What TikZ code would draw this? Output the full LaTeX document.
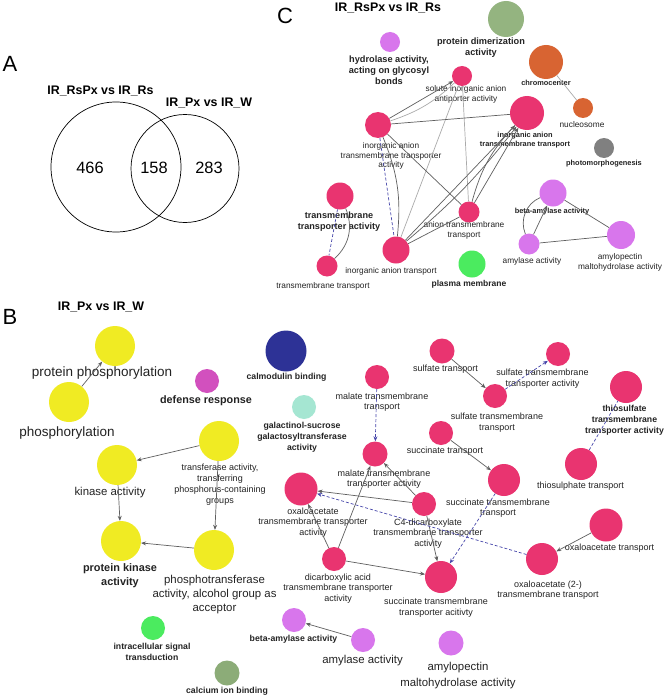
\documentclass[tikz,border=0pt]{standalone}
\usepackage{fontspec}
\setmainfont{Liberation Sans}
\usetikzlibrary{arrows.meta}
\definecolor{pinkc}{RGB}{233,52,112}
\definecolor{yelc}{RGB}{240,235,35}
\definecolor{violc}{RGB}{216,118,236}
\definecolor{magc}{RGB}{210,80,190}
\definecolor{navyc}{RGB}{45,50,150}
\definecolor{tealc}{RGB}{165,230,210}
\definecolor{greenc}{RGB}{75,235,95}
\definecolor{olivec}{RGB}{140,172,120}
\definecolor{dimc}{RGB}{148,180,128}
\definecolor{orangec}{RGB}{216,100,50}
\definecolor{grayc}{RGB}{128,128,128}
\definecolor{edgec}{RGB}{95,95,95}
\definecolor{edgel}{RGB}{170,170,170}
\definecolor{dashc}{RGB}{70,70,170}
\definecolor{txtc}{RGB}{35,35,35}
\tikzset{
  nd/.style={circle, inner sep=0pt, draw=none},
  pk/.style={nd, fill=pinkc},
  yl/.style={nd, fill=yelc, minimum size=40pt},
  vl/.style={nd, fill=violc},
  lb/.style={align=center, inner sep=0pt, text=txtc},
  sC/.style={lb, font=\fontsize{8.3}{9.8}\selectfont},
  sB/.style={lb, font=\fontsize{9}{10.5}\selectfont},
  bC/.style={lb, font=\fontsize{7.4}{9}\selectfont\bfseries},
  bB/.style={lb, font=\fontsize{8.7}{11}\selectfont\bfseries},
  big/.style={lb, font=\fontsize{11.4}{13.6}\selectfont},
  huge/.style={lb, font=\fontsize{13.5}{16}\selectfont},
  ttl/.style={lb, text=black, font=\fontsize{12.4}{15}\selectfont\bfseries},
  lett/.style={lb, text=black, font=\fontsize{22}{24}\selectfont},
  num/.style={lb, text=black, font=\fontsize{16.4}{19}\selectfont},
  vc/.style={circle, draw=black, line width=0.7pt, inner sep=0pt},
  ed/.style={draw=edgec, line width=0.7pt},
  edl/.style={draw=edgel, line width=0.7pt},
  ar/.style={ed, -{Stealth[length=5pt,width=4pt]}},
  dsh/.style={draw=dashc, line width=0.7pt, dash pattern=on 3pt off 2pt},
  dar/.style={dsh, -{Stealth[length=5pt,width=4pt]}},
}
\begin{document}
\begin{tikzpicture}[x=1pt,y=-1pt]
\useasboundingbox (0,0) rectangle (666,698);
\fill[white] (0,0) rectangle (666,698);

% ---------------- Panel A ----------------
\node[lett] (la) at (10,64) {A};
\node[vc, minimum size=130pt] (vl) at (116,167) {};
\node[vc, minimum size=108pt] (vr) at (185,168.5) {};
\node[ttl] (t1) at (100.5,91) {IR\_RsPx vs IR\_Rs};
\node[ttl] (t2) at (209,103) {IR\_Px vs IR\_W};
\node[num] (n1) at (90,168) {466};
\node[num] (n2) at (154,168) {158};
\node[num] (n3) at (209,168) {283};

% ---------------- Panel C ----------------
\node[lett] (lc) at (285,16) {C};
\node[ttl] (tc) at (388,8) {IR\_RsPx vs IR\_Rs};

\node[nd, fill=violc, minimum size=20pt] (hyd) at (390,42) {};
\node[lb, font=\fontsize{9.2}{11}\selectfont\bfseries] (hydl) at (389,70) {hydrolase activity,\\acting on glycosyl\\bonds};
\node[nd, fill=dimc, minimum size=36pt] (dim) at (506,19) {};
\node[lb, font=\fontsize{9.2}{11}\selectfont\bfseries] (diml) at (481,48) {protein dimerization\\activity};
\node[pk, minimum size=20pt] (sol) at (462,76) {};
\node[sC] (soll) at (466,94.5) {solute inorganic anion\\antiporter activity};
\node[nd, fill=orangec, minimum size=34pt] (chr) at (546,62) {};
\node[bC] (chrl) at (546,83) {chromocenter};
\node[nd, fill=orangec, minimum size=20pt] (nuc) at (583,108) {};
\node[sC] (nucl) at (582,125) {nucleosome};
\node[nd, fill=grayc, minimum size=20pt] (pho) at (604,148) {};
\node[bC] (phol) at (604,164) {photomorphogenesis};
\node[pk, minimum size=34pt] (iaTT) at (527,113) {};
\node[bC] (iaTTl) at (525,140) {inorganic anion\\transmembrane transport};
\node[pk, minimum size=26pt] (iaTA) at (378,125) {};
\node[sC] (iaTAl) at (391,156) {inorganic anion\\transmembrane transporter\\activity};
\node[pk, minimum size=27pt] (tta) at (340,196) {};
\node[lb, font=\fontsize{9.1}{11.5}\selectfont\bfseries] (ttal) at (339,221.5) {transmembrane\\transporter activity};
\node[pk, minimum size=21pt] (tt) at (327,266) {};
\node[sC] (ttl2) at (323,286) {transmembrane transport};
\node[pk, minimum size=27pt] (iat) at (396,250) {};
\node[sC] (iatl) at (391,271) {inorganic anion transport};
\node[pk, minimum size=21pt] (aTT) at (469,212) {};
\node[sC] (aTTl) at (464,230.5) {anion transmembrane\\transport};
\node[nd, fill=greenc, minimum size=27pt] (pm) at (472,264) {};
\node[lb, font=\fontsize{8.5}{10}\selectfont\bfseries] (pml) at (469,284) {plasma membrane};
\node[vl, minimum size=27pt] (ba1) at (553,193) {};
\node[bC] (ba1l) at (552,212) {beta-amylase activity};
\node[vl, minimum size=21pt] (am1) at (529,244) {};
\node[sC] (am1l) at (532,261) {amylase activity};
\node[vl, minimum size=28pt] (ap1) at (621,235) {};
\node[sC] (ap1l) at (620,262) {amylopectin\\maltohydrolase activity};

% C edges
\draw[edl] (chr) -- (nuc);
\draw[edl] (sol) -- (iat);
\draw[edl] (sol) -- (aTT);
\draw[edl] (iaTA) to[bend right=12] (sol);
\draw[ar] (iaTA) -- (sol);
\draw[ed] (iaTA) -- (iaTT);
\draw[ed] (iaTA) -- (aTT);
\draw[ed] (iaTA) to[bend left=14] (iat);
\draw[dsh] (iaTA) -- (iat);
\draw[ar] (iat) -- (iaTT);
\draw[ar] (iat) to[bend right=6] (iaTT);
\draw[ar] (aTT) -- (iaTT);
\draw[ed] (aTT) to[bend left=14] (iaTT);
\draw[ed] (aTT) -- (iat);
\draw[dsh] (tta) -- (tt);
\draw[ed] (tta) to[bend left=35] (tt);
\draw[ed] (ba1) to[bend right=45] (am1);
\draw[ar] (am1) -- (ba1);
\draw[ed] (ba1) -- (ap1);
\draw[ed] (am1) -- (ap1);

% ---------------- Panel B ----------------
\node[lett] (lbB) at (10,317) {B};
\node[ttl] (tb) at (101,307) {IR\_Px vs IR\_W};

\node[yl] (pp) at (115,346) {};
\node[huge] (ppl) at (102,373) {protein phosphorylation};
\node[yl] (ph) at (69,402) {};
\node[huge] (phl) at (67,433) {phosphorylation};
\node[yl] (ka) at (117,465) {};
\node[big] (kal) at (110,493) {kinase activity};
\node[yl] (tr) at (219,441) {};
\node[sB, font=\fontsize{9}{10.8}\selectfont] (trl) at (220,484.5) {transferase activity,\\transferring\\phosphorus-containing\\groups};
\node[yl] (pka) at (121,541) {};
\node[lb, font=\fontsize{10.9}{14}\selectfont\bfseries] (pkal) at (120,576) {protein kinase\\activity};
\node[yl] (pt) at (214,550) {};
\node[big] (ptl) at (214.5,594.5) {phosphotransferase\\activity, alcohol group as\\acceptor};

\node[nd, fill=magc, minimum size=24pt] (def) at (207,381) {};
\node[lb, font=\fontsize{10.8}{12}\selectfont\bfseries] (defl) at (206,401) {defense response};
\node[nd, fill=navyc, minimum size=41pt] (cal) at (286,351) {};
\node[bB] (call) at (286.5,377) {calmodulin binding};
\node[nd, fill=tealc, minimum size=24pt] (gal) at (304,407) {};
\node[bB] (gall) at (302,437) {galactinol-sucrose\\galactosyltransferase\\activity};
\node[nd, fill=greenc, minimum size=24pt] (ist) at (153,628) {};
\node[bB] (istl) at (152,651.5) {intracellular signal\\transduction};
\node[nd, fill=olivec, minimum size=25pt] (cib) at (227,673) {};
\node[bB] (cibl) at (227,691) {calcium ion binding};
\node[vl, minimum size=24pt] (ba2) at (294,620) {};
\node[bB] (ba2l) at (293.5,639) {beta-amylase activity};
\node[vl, minimum size=24pt] (am2) at (363,640) {};
\node[big] (am2l) at (362.5,661) {amylase activity};
\node[vl, minimum size=25pt] (ap2) at (451,643) {};
\node[lb, font=\fontsize{11.4}{16}\selectfont] (ap2l) at (458,676) {amylopectin\\maltohydrolase activity};

\node[pk, minimum size=25pt] (sft) at (442,351) {};
\node[sB] (sftl) at (445.5,369) {sulfate transport};
\node[pk, minimum size=24pt] (sftt) at (495,396) {};
\node[sB] (sfttl) at (497,422.5) {sulfate transmembrane\\transport};
\node[pk, minimum size=24pt] (sfta) at (558,354) {};
\node[sB] (sftal) at (542.5,378.5) {sulfate transmembrane\\transporter activity};
\node[pk, minimum size=32pt] (tsa) at (626,387) {};
\node[bB] (tsal) at (624.5,420) {thiosulfate\\transmembrane\\transporter activity};
\node[pk, minimum size=32pt] (tst) at (581,464) {};
\node[sB] (tstl) at (580.5,486) {thiosulphate transport};
\node[pk, minimum size=24pt] (mtt) at (377,377) {};
\node[sB] (mttl) at (382,402) {malate transmembrane\\transport};
\node[pk, minimum size=25pt] (mta) at (375,454) {};
\node[sB] (mtal) at (384,479) {malate transmembrane\\transporter activity};
\node[pk, minimum size=24pt] (sct) at (441,433) {};
\node[sB] (sctl) at (445,451) {succinate transport};
\node[pk, minimum size=32pt] (sctt) at (504,480) {};
\node[sB] (scttl) at (498,508) {succinate transmembrane\\transport};
\node[pk, minimum size=33pt] (oxa) at (301,489) {};
\node[sB] (oxal) at (313,522.5) {oxaloacetate\\transmembrane transporter\\activity};
\node[pk, minimum size=24pt] (c4) at (424,504) {};
\node[sB] (c4l) at (428,533.5) {C4-dicarboxylate\\transmembrane transporter\\activity};
\node[pk, minimum size=24pt] (dca) at (334,559) {};
\node[sB] (dcal) at (338,588.5) {dicarboxylic acid\\transmembrane transporter\\activity};
\node[pk, minimum size=32pt] (sca) at (441,577) {};
\node[sB] (scal) at (436,607.5) {succinate transmembrane\\transporter acitivty};
\node[pk, minimum size=32pt] (ox2) at (542,559) {};
\node[sB] (ox2l) at (548,590) {oxaloacetate (2-)\\transmembrane transport};
\node[pk, minimum size=33pt] (oxt) at (606,525) {};
\node[sB] (oxtl) at (609.5,548) {oxaloacetate transport};

% B edges
\draw[ar] (ph) -- (pp);
\draw[ar] (tr) -- (ka);
\draw[ar] (tr) -- (pt);
\draw[ar] (ka) -- (pka);
\draw[ar] (pt) -- (pka);
\draw[ar] (am2) -- (ba2);
\draw[ar] (sft) -- (sftt);
\draw[dar] (sftt) -- (sfta);
\draw[dsh] (tst) -- (tsa);
\draw[dar] (mtt) -- (mta);
\draw[ar] (sct) -- (sctt);
\draw[ar] (dca) -- (oxa);
\draw[ar] (dca) -- (mta);
\draw[ar] (dca) -- (sca);
\draw[ar] (c4) -- (oxa);
\draw[ar] (c4) -- (mta);
\draw[ar] (c4) -- (sca);
\draw[dar] (ox2) -- (oxa);
\draw[dar] (sctt) -- (sca);
\draw[ar] (oxt) -- (ox2);
\end{tikzpicture}
\end{document}
